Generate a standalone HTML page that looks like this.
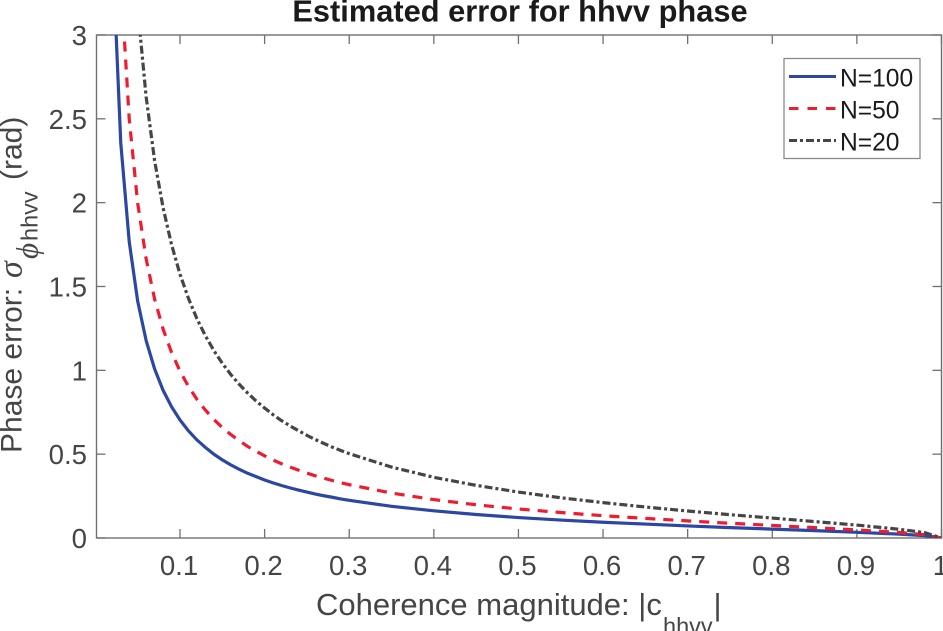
<!DOCTYPE html>
<html>
<head>
<meta charset="utf-8">
<title>Estimated error for hhvv phase</title>
<style>
html,body{margin:0;padding:0;background:#fff;width:943px;height:631px;overflow:hidden}
svg{display:block}
text{font-family:"Liberation Sans",Arial,sans-serif}
</style>
</head>
<body>
<svg id="chart" xmlns="http://www.w3.org/2000/svg" width="943" height="631" viewBox="0 0 943 631">
  <defs><clipPath id="plot-clip"><rect x="96.5" y="35" width="845" height="503"/></clipPath></defs>
  <text x="520" y="21.5" text-anchor="middle" font-size="30.8" font-weight="bold" fill="#1a1a1a">Estimated error for hhvv phase</text>
  <rect x="96.5" y="35" width="845" height="503" fill="none" stroke="#707070" stroke-width="1.4"/>
  <g id="ticks"></g>
  <g id="series" clip-path="url(#plot-clip)"></g>
  <text x="316" y="615" font-size="31" fill="#454545">Coherence magnitude: |c<tspan x="663" y="634" font-size="23.5">hhvv</tspan><tspan x="713.5" y="615">|</tspan></text>
  <text transform="translate(21.7,453) rotate(-90)" font-size="30" fill="#454545"><tspan x="0" y="0">Phase error:</tspan><tspan x="175" y="0" font-family="'Liberation Serif',serif" font-style="italic" font-size="34">σ</tspan><tspan x="194" y="16" font-family="'Liberation Serif',serif" font-style="italic" font-size="31">ϕ</tspan><tspan x="212" y="16" font-size="23.5">hhvv</tspan><tspan x="273" y="0">(rad)</tspan></text>
  <g>
    <rect x="784" y="58.5" width="136" height="100" fill="#fff" stroke="#8a8a8a" stroke-width="1.3"/>
    <line x1="789" x2="836" y1="76.5" y2="76.5" stroke="#2b47a3" stroke-width="3"/>
    <line x1="789" x2="836" y1="108.5" y2="108.5" stroke="#ee1c2e" stroke-width="3" stroke-dasharray="9.5 9"/>
    <line x1="789" x2="836" y1="140.5" y2="140.5" stroke="#454545" stroke-width="3" stroke-dasharray="8 3 3 3"/>
    <text x="840" y="86.5" font-size="24.6" fill="#1a1a1a">N=100</text>
    <text x="840" y="118.5" font-size="24.6" fill="#1a1a1a">N=50</text>
    <text x="840" y="150.5" font-size="24.6" fill="#1a1a1a">N=20</text>
  </g>
</svg>
<script>
const coherence = [0.02,0.03,0.04,0.05,0.06,0.07,0.08,0.09,0.1,0.11,0.12,0.13,0.14,0.15,0.16,0.17,0.18,0.19,0.2,0.21,0.22,0.23,0.24,0.25,0.26,0.27,0.28,0.29,0.3,0.35,0.4,0.45,0.5,0.55,0.6,0.65,0.7,0.75,0.8,0.85,0.9,0.95,0.98,1];
const errorN100 = [3.535,2.356,1.767,1.412,1.177,1.008,0.881,0.783,0.704,0.639,0.585,0.54,0.5,0.466,0.436,0.41,0.386,0.366,0.346,0.329,0.313,0.299,0.286,0.274,0.262,0.252,0.243,0.233,0.225,0.189,0.162,0.14,0.122,0.107,0.094,0.083,0.072,0.062,0.053,0.044,0.034,0.023,0.014,0];
const errorN50 = [4.999,3.332,2.498,1.997,1.664,1.425,1.246,1.107,0.995,0.904,0.827,0.763,0.707,0.659,0.617,0.58,0.546,0.517,0.49,0.465,0.443,0.423,0.405,0.387,0.371,0.357,0.343,0.33,0.318,0.268,0.229,0.198,0.173,0.152,0.133,0.117,0.102,0.088,0.075,0.062,0.048,0.033,0.02,0];
const errorN20 = [7.9,5.27,3.95,3.16,2.63,2.25,1.97,1.75,1.573,1.429,1.308,1.206,1.118,1.042,0.975,0.917,0.864,0.817,0.775,0.735,0.7,0.669,0.64,0.612,0.587,0.564,0.542,0.522,0.503,0.423,0.362,0.314,0.274,0.24,0.211,0.185,0.161,0.139,0.119,0.098,0.077,0.052,0.032,0];
const xTicks = [0.1,0.2,0.3,0.4,0.5,0.6,0.7,0.8,0.9,1];
const yTicks = [0,0.5,1,1.5,2,2.5,3];

const NS = 'http://www.w3.org/2000/svg';
function xScale(v){ return 180 + (v - 0.1) * 846.1; }
function yScale(v){ return 538 - v * 167.67; }

const ticksGroup = document.getElementById('ticks');
const seriesGroup = document.getElementById('series');

function tickLine(x1, y1, x2, y2){
  const l = document.createElementNS(NS, 'line');
  
  
  l.setAttribute('x1', x1);
  l.setAttribute('y1', y1);
  l.setAttribute('x2', x2);
  l.setAttribute('y2', y2);
  l.setAttribute('stroke', '#707070');
  l.setAttribute('stroke-width', '1.3');
  ticksGroup.appendChild(l);
}

xTicks.forEach(function(t){
  const x = xScale(t);
  tickLine(x, 538, x, 529);
  tickLine(x, 35, x, 44);
  const label = document.createElementNS(NS, 'text');
  
  
  label.setAttribute('x', x - 1);
  label.setAttribute('y', 575);
  label.setAttribute('text-anchor', 'middle');
  label.setAttribute('font-size', '27.6');
  label.setAttribute('fill', '#454545');
  label.textContent = String(t);
  ticksGroup.appendChild(label);
});

yTicks.forEach(function(t){
  const y = yScale(t);
  tickLine(96.5, y, 105.5, y);
  tickLine(941.5, y, 932.5, y);
  const label = document.createElementNS(NS, 'text');
  
  
  label.setAttribute('x', 87);
  label.setAttribute('y', y + 10);
  label.setAttribute('text-anchor', 'end');
  label.setAttribute('font-size', '27.6');
  label.setAttribute('fill', '#454545');
  label.textContent = String(t);
  ticksGroup.appendChild(label);
});

function drawSeries(values, color, dash, name){
  const p = document.createElementNS(NS, 'polyline');
  
  
  p.setAttribute('points', values.map(function(v, i){
    return xScale(coherence[i]).toFixed(2) + ',' + yScale(v).toFixed(2);
  }).join(' '));
  p.setAttribute('fill', 'none');
  p.setAttribute('stroke', color);
  p.setAttribute('stroke-width', '3.2');
  if (dash) p.setAttribute('stroke-dasharray', dash);
  seriesGroup.appendChild(p);
}

drawSeries(errorN100, '#2b47a3', '', 'series-n100');
drawSeries(errorN50, '#ee1c2e', '10 8', 'series-n50');
drawSeries(errorN20, '#454545', '8 3 3 3', 'series-n20');
</script>
</body>
</html>
